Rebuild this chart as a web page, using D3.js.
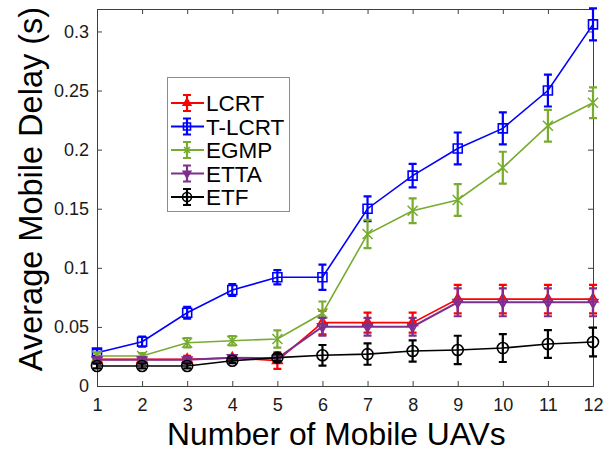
<!DOCTYPE html>
<html><head><meta charset="utf-8">
<script src="https://cdn.jsdelivr.net/npm/d3@7"></script>
<style>body{margin:0;background:#fff}svg{display:block}</style>
</head><body>
<svg id="c" width="614" height="453"></svg>
<script>
const xVals = [1,2,3,4,5,6,7,8,9,10,11,12];
const xTicks = [1,2,3,4,5,6,7,8,9,10,11,12];
const yTicks = [0,0.05,0.1,0.15,0.2,0.25,0.3];
const yTickLabels = ["0","0.05","0.1","0.15","0.2","0.25","0.3"];
const seriesNames = ["LCRT","T-LCRT","EGMP","ETTA","ETF"];
const lcrt    = [0.0225,0.0225,0.0225,0.0237,0.0215,0.0536,0.0536,0.0536,0.0735,0.0735,0.0735,0.0735];
const lcrtErr = [0.002,0.002,0.003,0.002,0.007,0.010,0.0085,0.0085,0.012,0.012,0.012,0.012];
const tlcrt    = [0.0282,0.0375,0.062,0.0812,0.092,0.092,0.150,0.178,0.201,0.218,0.250,0.306];
const tlcrtErr = [0.003,0.0042,0.005,0.005,0.006,0.0107,0.0105,0.010,0.0135,0.0135,0.0135,0.0135];
const egmp    = [0.0254,0.0254,0.0366,0.0383,0.0398,0.0615,0.1286,0.1483,0.1574,0.1847,0.2202,0.2397];
const egmpErr = [0.003,0.0025,0.004,0.004,0.0073,0.010,0.012,0.0105,0.0135,0.0135,0.0135,0.013];
const etta    = [0.0222,0.0222,0.0222,0.024,0.0235,0.0502,0.0502,0.0502,0.0708,0.0708,0.0708,0.0708];
const ettaErr = [0.002,0.002,0.002,0.002,0.003,0.0075,0.0075,0.0075,0.0118,0.0118,0.0118,0.0118];
const etf    = [0.0169,0.0169,0.0169,0.0214,0.024,0.026,0.027,0.0296,0.0305,0.0321,0.0355,0.0372];
const etfErr = [0.002,0.002,0.002,0.002,0.003,0.0087,0.009,0.009,0.012,0.0118,0.0117,0.0122];
const colors = ["#ff0000","#0000ff","#77ac30","#7e2f8e","#000000"];
const markers = ["triUp","square","cross","triDown","circle"];

const series = [
  {name:seriesNames[0], v:lcrt, e:lcrtErr},
  {name:seriesNames[1], v:tlcrt, e:tlcrtErr},
  {name:seriesNames[2], v:egmp, e:egmpErr},
  {name:seriesNames[3], v:etta, e:ettaErr},
  {name:seriesNames[4], v:etf, e:etfErr}
];

const L=97, R=593, T=9, B=386;
const x = d3.scaleLinear().domain([1,12]).range([L,R]);
const y = d3.scaleLinear().domain([0,0.319]).range([B,T]);
const svg = d3.select("#c");
const font = "'Liberation Sans', Arial, sans-serif";

const axCol = "#404040";
const gB = svg.append("g").attr("transform",`translate(0,${B})`)
  .call(d3.axisBottom(x).tickValues(xTicks).tickSize(-5).tickPadding(12).tickFormat(d3.format("d")));
const gT = svg.append("g").attr("transform",`translate(0,${T})`)
  .call(d3.axisTop(x).tickValues(xTicks).tickSize(-5).tickFormat(""));
const gL = svg.append("g").attr("transform",`translate(${L},0)`)
  .call(d3.axisLeft(y).tickValues(yTicks).tickSize(-5).tickPadding(8).tickFormat((d,i)=>yTickLabels[i]));
const gR = svg.append("g").attr("transform",`translate(${R},0)`)
  .call(d3.axisRight(y).tickValues(yTicks).tickSize(-5).tickFormat(""));
[gB,gT,gL,gR].forEach(g=>{
  g.select(".domain").attr("stroke",axCol).attr("stroke-width",1);
  g.selectAll(".tick line").attr("stroke",axCol);
  g.selectAll("text").attr("font-family",font).attr("font-size",18).attr("fill","#1a1a1a");
});

function markerPath(type, s){
  switch(type){
    case "triUp": return d3.symbol().type(d3.symbolTriangle).size(s*s*0.5)();
    case "triDown": return d3.symbol().type(d3.symbolTriangle).size(s*s*0.5)();
    case "square": return `M${-s/2},${-s/2}H${s/2}V${s/2}H${-s/2}Z`;
    case "cross": return `M${-s/2},${-s/2}L${s/2},${s/2}M${s/2},${-s/2}L${-s/2},${s/2}`;
    case "circle": return d3.symbol().type(d3.symbolCircle).size(Math.PI*s*s/4)();
  }
}

const cap = 4;
series.forEach((sr,si)=>{
  const col = colors[si];
  const g = svg.append("g");
  const line = d3.line().x((d,i)=>x(xVals[i])).y(d=>y(d));
  g.append("path").attr("d",line(sr.v)).attr("fill","none").attr("stroke",col).attr("stroke-width",si===3?2:1.6);
  sr.v.forEach((v,i)=>{
    const cx=x(xVals[i]), y1=y(v+sr.e[i]), y2=y(v-sr.e[i]);
    g.append("path")
      .attr("d",`M${cx},${y1}V${y2}M${cx-cap},${y1}H${cx+cap}M${cx-cap},${y2}H${cx+cap}`)
      .attr("stroke",col).attr("stroke-width",2.2).attr("fill","none");
  });
  sr.v.forEach((v,i)=>{
    const cx=x(xVals[i]), cy=y(v);
    const m = markers[si];
    const p = g.append("path").attr("d",markerPath(m, m==="cross"?10:(m==="circle"?11:9)))
      .attr("transform",`translate(${cx},${cy})${m==="triDown"?" rotate(180)":""}`)
      .attr("stroke",col).attr("stroke-width",1.6);
    if(m==="triUp"||m==="triDown") p.attr("fill",col).attr("fill-opacity",0.6);
    else p.attr("fill","none");
  });
});

// legend
const lg = svg.append("g");
lg.append("rect").attr("x",167.5).attr("y",77.5).attr("width",122).attr("height",134)
  .attr("fill","#fff").attr("stroke","#8c8c8c").attr("stroke-width",1);
series.forEach((sr,si)=>{
  const cy = 103 + si*23.5, col = colors[si], mx = 187;
  lg.append("path").attr("d",`M171,${cy}H204`).attr("stroke",col).attr("stroke-width",2);
  lg.append("path").attr("d",`M${mx},${cy-8}V${cy+8}M${mx-cap},${cy-8}H${mx+cap}M${mx-cap},${cy+8}H${mx+cap}`)
    .attr("stroke",col).attr("stroke-width",2.2).attr("fill","none");
  const m = markers[si];
  const p = lg.append("path").attr("d",markerPath(m, m==="cross"?6:(m==="circle"?9:7)))
    .attr("transform",`translate(${mx},${cy})${m==="triDown"?" rotate(180)":""}`)
    .attr("stroke",col).attr("stroke-width",1.6);
  if(m==="triUp"||m==="triDown") p.attr("fill",col);
  else p.attr("fill","none");
  lg.append("text").attr("x",206).attr("y",cy+8).text(sr.name)
    .attr("font-family",font).attr("font-size",22.5).attr("fill","#000");
});

// axis labels
svg.append("text").attr("x",167).attr("y",445).attr("text-anchor","start")
  .attr("font-family",font).attr("font-size",31.8).attr("fill","#000").text("Number of Mobile UAVs");
svg.append("text").attr("transform",`translate(42,189) rotate(-90)`).attr("text-anchor","middle")
  .attr("font-family",font).attr("font-size",32.5).attr("fill","#000").text("Average Mobile Delay (s)");
</script>
</body></html>
